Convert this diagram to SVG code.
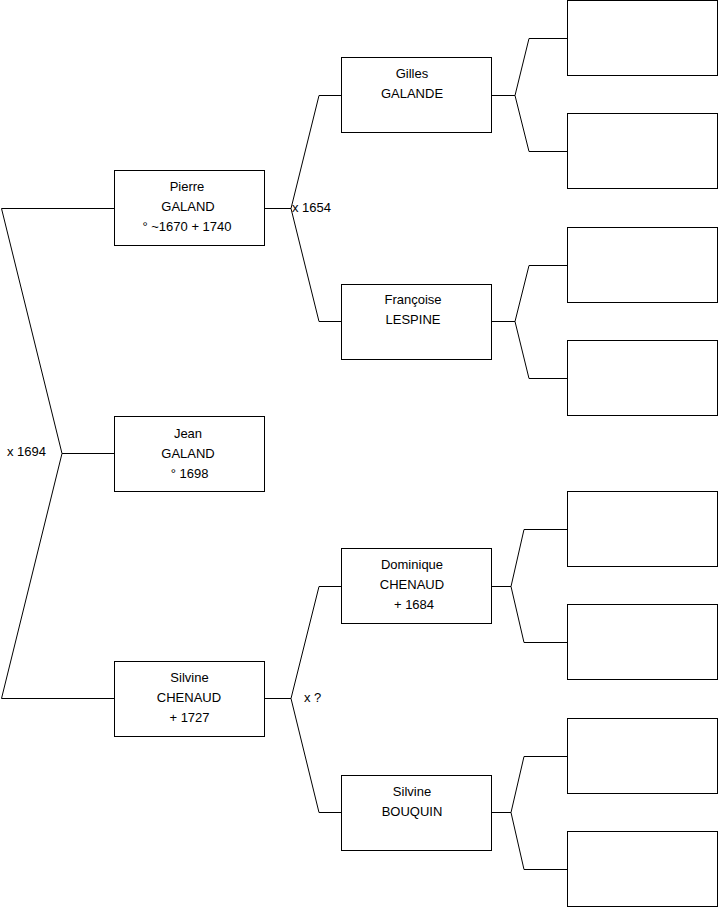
<svg xmlns="http://www.w3.org/2000/svg" width="719" height="908" viewBox="0 0 719 908">
<style>
.box{fill:#fff;stroke:#000;stroke-width:1}
.ln{fill:none;stroke:#000;stroke-width:1}
text{font-family:"Liberation Sans",Arial,sans-serif;font-size:13px;fill:#000}
.c{text-anchor:middle}
</style>
<rect width="719" height="908" fill="#fff"/>
<g id="connectors">
<polyline class="ln" points="114,208.5 1.5,208.5 62,453.5 1.5,698.5 114,698.5"/>
<line class="ln" x1="62" y1="453.5" x2="114" y2="453.5"/>
<polyline class="ln" points="265,208.5 291,208.5"/>
<polyline class="ln" points="341,95.5 319,95.5 291,208.5 319,321.5 341,321.5"/>
<polyline class="ln" points="265,698.5 291,698.5"/>
<polyline class="ln" points="341,586.5 319,586.5 291,698.5 319,812.5 341,812.5"/>
<polyline class="ln" points="491,95.5 515,95.5"/>
<polyline class="ln" points="567,38.5 529,38.5 515,95.5 529,151.5 567,151.5"/>
<polyline class="ln" points="491,321.5 515,321.5"/>
<polyline class="ln" points="567,265.5 529,265.5 515,321.5 529,378.5 567,378.5"/>
<polyline class="ln" points="491,586.5 511,586.5"/>
<polyline class="ln" points="567,529.5 524,529.5 511,586.5 524,642.5 567,642.5"/>
<polyline class="ln" points="491,812.5 511,812.5"/>
<polyline class="ln" points="567,756.5 524,756.5 511,812.5 524,869.5 567,869.5"/>
<text x="7" y="456">x 1694</text>
<text x="292" y="212">x 1654</text>
<text x="304" y="702">x ?</text>
</g>
<g id="pierre"><rect class="box" x="114.5" y="170.5" width="150" height="75"/>
<text class="c" x="187" y="191">Pierre</text><text class="c" x="188" y="211">GALAND</text><text class="c" x="187" y="231">° ~1670 + 1740</text></g>
<g id="jean"><rect class="box" x="114.5" y="416.5" width="150" height="75"/>
<text class="c" x="188" y="438">Jean</text><text class="c" x="188" y="458">GALAND</text><text class="c" x="189.5" y="478">° 1698</text></g>
<g id="silvine-chenaud"><rect class="box" x="114.5" y="661.5" width="150" height="75"/>
<text class="c" x="189.5" y="682">Silvine</text><text class="c" x="189" y="702">CHENAUD</text><text class="c" x="189.5" y="722">+ 1727</text></g>
<g id="gilles"><rect class="box" x="341.5" y="57.5" width="150" height="75"/>
<text class="c" x="412" y="78">Gilles</text><text class="c" x="412" y="98">GALANDE</text></g>
<g id="francoise"><rect class="box" x="341.5" y="284.5" width="150" height="75"/>
<text class="c" x="413" y="304">Françoise</text><text class="c" x="413" y="324">LESPINE</text></g>
<g id="dominique"><rect class="box" x="341.5" y="548.5" width="150" height="75"/>
<text class="c" x="412" y="569">Dominique</text><text class="c" x="412" y="589">CHENAUD</text><text class="c" x="414" y="609">+ 1684</text></g>
<g id="silvine-bouquin"><rect class="box" x="341.5" y="775.5" width="150" height="75"/>
<text class="c" x="412" y="796">Silvine</text><text class="c" x="412" y="816">BOUQUIN</text></g>
<g id="r1"><rect class="box" x="567.5" y="0.5" width="150" height="75"/></g>
<g id="r2"><rect class="box" x="567.5" y="113.5" width="150" height="75"/></g>
<g id="r3"><rect class="box" x="567.5" y="227.5" width="150" height="75"/></g>
<g id="r4"><rect class="box" x="567.5" y="340.5" width="150" height="75"/></g>
<g id="r5"><rect class="box" x="567.5" y="491.5" width="150" height="75"/></g>
<g id="r6"><rect class="box" x="567.5" y="604.5" width="150" height="75"/></g>
<g id="r7"><rect class="box" x="567.5" y="718.5" width="150" height="75"/></g>
<g id="r8"><rect class="box" x="567.5" y="831.5" width="150" height="75"/></g>
</svg>
